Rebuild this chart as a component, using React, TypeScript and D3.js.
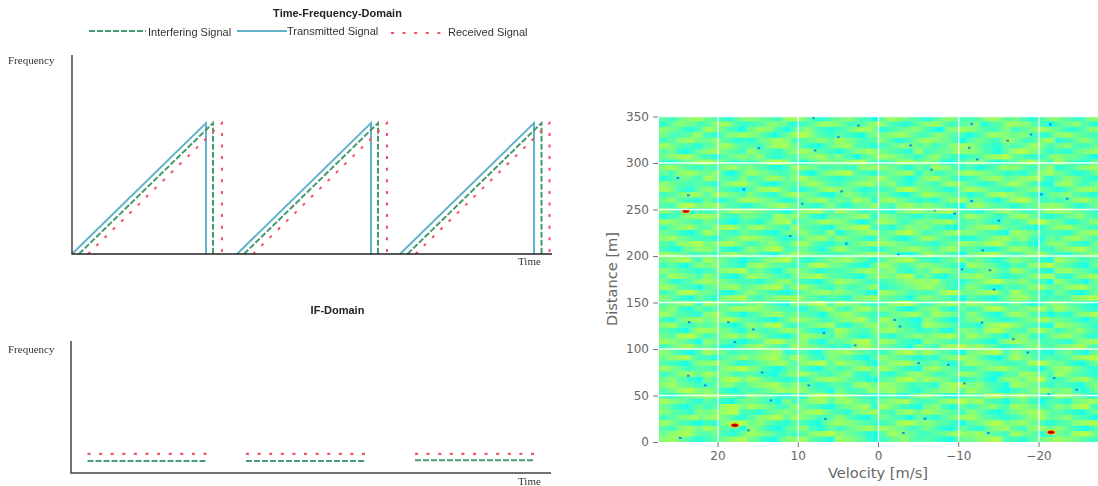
import React, { useEffect, useRef } from "react";
import * as d3 from "d3";

// left panels: time in sketch units along the axis, frequency as a share of the axis height
const chirpStarts = [0, 165, 328];
const chirpLength = 134;
const transmittedDelay = 0;
const interferingDelays = [7, 7, 7.5];
const receivedDelays = [16, 16, 15.5];
const chirpPeak = 0.658;

const ifStarts = [16.5, 175, 344];
const ifEnds = [135.5, 295, 463];
const ifReceived = [0.145, 0.145, 0.145];
const ifInterfering = [0.09, 0.09, 0.097];

// heatmap axes
const velocityTicks = [20, 10, 0, -10, -20];
const distanceTicks = [0, 50, 100, 150, 200, 250, 300, 350];

// estimated colour level (0-9) of the background field, top row first.
// the texture is too fine to read cell by cell so this is approximate
const fieldRows = [
  "4433556677 5543322456 6655443367 7765432234 5566543321 4577665443 2234566543 3345677654 5543223456 6544332566",
  "2345665543 4466775432 3344566553 2233456776 6543344567 7543322345 6677543344 5562234457 7766543321 3455664422",
  "6655432234 7765543312 5577664321 4556643322 3345677765 2234455665 4321156677 6654433456 3344567765 5432233566",
  "5543344576 3322456677 6654321345 7788654332 4433221456 5566776543 3456654433 1234577665 5566433224 6677554433",
  "3344667755 5566443223 2245567766 3344556654 7765543344 6543223456 7766554321 4455443367 6543345677 2233456654",
  "7765443322 4456776543 4433567786 5543221345 6677443322 3345566554 5533446677 7654332245 3445677543 5566433345",
  "4455221345 6677554433 7654433245 6677654433 2234566776 5544332267 3344555766 6655332144 7788665432 3322455667",
  "5566778654 3321445566 5566332234 4455667754 6543214456 7766554423 4567443322 3344667788 5443322346 6655544321",
  "3322445567 7765543234 3345678876 3322445665 5566778543 3344667755 6655221344 5566432233 4466775543 7754332245",
  "6677554332 4433667755 6544322133 7766554334 4433256677 6655432245 3377665432 4321334576 6654334567 2233456677",
  "4534667765 5566321245 7765544334 5532124566 7788543322 4455667732 5543344567 7766554432 3322446677 5543222345",
  "2234455443 7765443356 3344677654 6677554433 2233445566 7654432134 6677554322 3345667754 5566778432 4466553322",
  "6655443344 3322566778 5543221345 4456776543 3345566775 5566332245 4433567765 4432233556 7765433221 6677543345",
  "7765332245 6654433221 4466778654 3322445677 6655432233 3344778865 5544322346 7766544332 3445566443 2234566776",
  "3344566776 4477665543 6543322456 7765543221 4466553344 5543221345 7766554434 2233567786 6554332245 5566443322",
  "5566443322 5532234467 7766554322 3345667754 5544776632 6677554332 3322456677 4455332144 7788654334 3344667755",
  "4433778865 6677544332 2344566776 5543322456 3322445567 4433667755 6655433221 6677554433 2234455667 6654322345",
  "6654322134 3344556776 6655443321 4466778543 7765543344 3322556677 5566778543 3322445667 5543344576 7766554432",
  "2233456677 7766433245 5544337765 6655322145 4455667732 6655443322 4433221345 7765543234 6677554322 3345566443",
  "7766554433 5543321134 3322456778 3344556776 6654321245 7766433456 5566677543 4455332245 3344778865 5532234466",
  "3345667754 4466778654 6677554432 7754433221 5566778843 3322446655 6543322134 5566778654 4433221345 6677554433",
  "5544322134 7765433245 4433221345 5566443367 2234556677 4455778865 3344566775 6654433221 7766554334 3322456677",
  "6677554433 3322445567 7766554322 3345667754 6655443223 5543221345 7765443322 2234456677 5566432245 4466775543",
  "4433667788 5566778654 3345566443 6677543322 4433556677 7766554434 3322445567 6655778865 3344221456 6654332245",
  "3322145566 6654322134 6655778843 4455332145 7765443322 2345566776 5544667743 4433221345 7766554332 5566778654",
  "7766554334 4433667755 5543221345 7766554433 3344556677 6654322134 7765543321 5566778654 3345667754 3322445566",
  "5566778543 7765543321 3344667788 5432234456 6677554322 4466778854 3322445566 4455332234 6655443221 7765543344",
  "3344221456 5566443322 6677654433 3344778865 5543322145 7765433456 6655443321 7766554322 4433667788 5544322145",
  "6655443322 3345667788 4455332145 6655432234 3344566776 5566332245 4477665543 3345566443 7765433221 6677554432",
  "4477665543 6654322134 7766554332 5566778654 4433221456 6655778843 5532214456 6677554322 3344566778 3322456677",
  "5532234466 7766554433 3322445667 4433221345 7766554334 3344556677 6677443322 4455778865 5566443321 7654332145",
  "7766443321 4455667754 5566778843 6677554332 5543344567 2233445566 7765543234 6654322134 3344667755 4466778654",
  "3344778865 5543221345 6654433221 3345566775 6655443221 7766554334 3344778865 5566778543 7765443322 5543221345",
  "6654322145 3322667788 4433556677 7765443234 3322556677 5544332145 6655443221 4433221345 6677554334 3344667788",
  "4455667732 7765543344 5566443221 6655778843 7766554332 4466778854 3345667754 7766554433 5543221456 6654433221",
  "5566332245 3344556776 7766554433 3322445677 4433667755 6655322134 5566332245 3344778865 4455667754 7765543322",
  "7765443322 6677543321 3345667754 5544332145 6677554433 3345566776 4477665543 6654322145 7766443321 3322456678",
  "3322556677 5566778654 4433221345 7766554334 5566778543 7765433221 6654322134 5566443322 3345566775 5544332134",
  "6677443345 4455332134 6655778843 3344556677 3322445667 5566443322 7766554433 3322667788 6654433221 7766554432",
  "4433221567 7766554322 5543344567 6654322134 7765443356 6677554432 3344221456 5544778865 4433667755 3345566443",
  "5544778865 3344667755 7765433221 4477665543 6654332245 3322445566 5566778654 7765543321 5566332245 6677554322",
  "7766554321 6655443221 3344778865 5566332145 4455778854 7766433221 6655443345 4433221456 7766554334 3322456677",
  "3345667754 5543221345 6677554433 7766554432 3322667765 5544332156 4433667788 6677554322 3345566443 5566778543",
  "6654322134 7765543344 4455667732 3344221456 6677554433 3345778865 7765443221 5566778843 6654433221 4455332145",
  "5566778543 3322445567 5566778654 7765433256 5544322134 6655443322 3322556677 6654322134 7765543344 3344667788",
  "4433221456 6677554322 3345566775 4466778854 7766554321 5566778654 4455332245 7766554433 3344778865 5543221345",
  "7765543344 4433667788 6654322134 5543221345 3344667755 7765433221 6677554433 3345566776 5544332145 6677554322",
  "3344667755 7766554334 4433221345 6677554433 5566332245 3322445667 5543344567 6654322134 4477665543 7765443322",
  "5566443221 5544778865 7765443322 3322456677 6654433221 4455778865 7766554322 3344221456 6655778843 3345667754",
  "6677554433 3345566443 5566778654 6655432234 4433667755 7766554334 3322667788 5566443321 7766554432 4433221456",
  "4455778865 6654322134 3344556776 7766443321 5543344576 6677554322 4455667754 7765543221 3344566775 5566332245",
  "3322445566 7766554433 6655443221 4433778865 7765443322 3344221456 6654322134 5544778865 6677554433 7766554322",
  "7766554322 4433221345 5544332156 3345667754 6677554433 5566778543 3344667788 6677443321 4455332134 3322556677",
  "5543221345 3344778865 7766554334 6654433221 4455667732 7765433221 5566332245 3345566443 7766554334 6655778843",
  "6654433256 5566778843 3322445566 5566778654 3322556677 4433667755 7766554433 6654322134 5566778654 4433221345",
  "3344566775 6677554322 4466778854 7765543344 6654322134 5544332145 3322445667 7765443322 3345667754 5566443321",
  "7765433221 3322667788 5566443322 4433221456 7766554432 3344778865 6655443221 4455778865 6677554322 3344667788",
  "4433667755 7765443322 6654322134 5566332245 3345566775 7766554334 5543221345 3322456677 4433667755 6654322134",
  "5566778654 4455332245 7766554334 3344667788 6655443221 4477665543 3344556776 6677554433 7765543221 5544778865",
  "6677554322 3344566778 5543221456 6677443321 7766554322 3345566443 4433221345 5566778843 3322445566 7766554433",
];

// blue specks in the field [velocity m/s, distance m]
const speckVelocity = [25, 16.8, 4, 14.9, 2.5, 5, 8.1, 7.9, 9.5, 4.6, 11, 23.7, -4, -6.6, -11.6, -7, -16.1, -11.3, -12.3, -19, -9.5, -15, -13, -20.3, -23.5, -21.4, -11.6, -13.9, -10.4, -2.5, 23.6, 15.6, 6.8, 2.9, 18.7, 23.7, 21.6, 8.7, 13.4, 6.6, 17.9, 14.5, 24.7, 16.2, -2.7, -12.9, -16.8, -18.6, -21.9, -21.2, -5.8, -14.4, -2, -13.7, -3.1, -10.7, -8.7, -5, -24.7];
const speckDistance = [283.8, 271.6, 213.3, 316, 340.3, 327.8, 348.6, 313.5, 256.2, 269.5, 221.5, 265.2, 318.9, 292.8, 259.1, 249.1, 323.9, 316.4, 303.8, 330.7, 245.5, 238, 206.1, 266.3, 261.6, 341.4, 342.1, 184.7, 185.7, 201.5, 128.8, 121, 117, 103.8, 128.8, 71.2, 60.8, 60.8, 44.7, 24.7, 107.4, 74.8, 4.3, 12.5, 124.2, 128.5, 110.6, 96.3, 68.7, 51.2, 25, 163.9, 131.3, 9.7, 9.7, 63, 83, 84.8, 56.2];

// the three targets
const peakVelocity = [24, 17.9, -21.5];
const peakDistance = [248.3, 17.9, 10.4];

// jet position of each field level
const fieldLevels = [0.31, 0.39, 0.415, 0.44, 0.46, 0.485, 0.51, 0.53, 0.55, 0.58];

const TEAL = "#62b3c9";
const GREEN = "#459a72";
const RED = "#f0565f";
const GREEN_DASH = "6 2";
const RED_DASH = "3 8.6";

const jet = d3
  .scaleLinear<string>()
  .domain([0, 0.125, 0.375, 0.625, 0.875, 1])
  .range(["#00007f", "#0000ff", "#00ffff", "#ffff00", "#ff0000", "#7f0000"]);

function drawLeft(svg: any) {
  const g = svg.append("g").attr("filter", "url(#soft)");
  const serif = "'Liberation Serif', serif";
  const sans = "'Liberation Sans', sans-serif";

  const label = (x: number, y: number, s: string, font: string, anchor = "start", weight = "normal", fill = "#333") =>
    g.append("text").attr("x", x).attr("y", y).attr("text-anchor", anchor)
      .attr("font-family", font).attr("font-size", 11).attr("font-weight", weight).attr("fill", fill).text(s);

  // titles
  label(337.5, 17, "Time-Frequency-Domain", sans, "middle", "bold", "#222");
  label(337.5, 314, "IF-Domain", sans, "middle", "bold", "#222");

  // legend
  const leg = (x1: number, x2: number, y: number, color: string, dash: string | null) =>
    g.append("line").attr("x1", x1).attr("x2", x2).attr("y1", y).attr("y2", y)
      .attr("stroke", color).attr("stroke-width", 2).attr("stroke-dasharray", dash);
  leg(89, 146, 31, GREEN, GREEN_DASH);
  label(148, 36, "Interfering Signal", sans);
  leg(237, 287, 31, TEAL, null);
  label(287, 35, "Transmitted Signal", sans);
  leg(391, 443, 33, RED, RED_DASH);
  label(448, 36, "Received Signal", sans);

  // time-frequency panel
  const x = d3.scaleLinear().domain([0, 480]).range([72, 552]);
  const y = d3.scaleLinear().domain([0, 1]).range([254, 55]);
  const saw = d3.line<[number, number]>().x((d) => x(d[0])).y((d) => y(d[1]));

  const chirp = (delays: number[], color: string, dash: string | null) => {
    chirpStarts.forEach((s, i) => {
      const t0 = s + delays[i];
      g.append("path")
        .attr("d", saw([[t0, 0], [t0 + chirpLength, chirpPeak], [t0 + chirpLength, 0]]))
        .attr("fill", "none").attr("stroke", color).attr("stroke-width", 2)
        .attr("stroke-dasharray", dash);
    });
  };
  chirp(chirpStarts.map(() => transmittedDelay), TEAL, null);
  chirp(interferingDelays, GREEN, GREEN_DASH);
  chirp(receivedDelays, RED, RED_DASH);

  g.append("path").attr("d", saw([[0, 1], [0, 0], [480, 0]]))
    .attr("fill", "none").attr("stroke", "#222").attr("stroke-width", 1.3);
  label(8, 64, "Frequency", serif);
  label(518, 265, "Time", serif);

  // IF panel
  const x2 = d3.scaleLinear().domain([0, 480]).range([71, 551]);
  const y2 = d3.scaleLinear().domain([0, 1]).range([473, 341]);
  const flat = d3.line<[number, number]>().x((d) => x2(d[0])).y((d) => y2(d[1]));

  ifStarts.forEach((s, i) => {
    g.append("path").attr("d", flat([[s, ifReceived[i]], [ifEnds[i], ifReceived[i]]]))
      .attr("fill", "none").attr("stroke", RED).attr("stroke-width", 2.4).attr("stroke-dasharray", RED_DASH);
    g.append("path").attr("d", flat([[s, ifInterfering[i]], [ifEnds[i], ifInterfering[i]]]))
      .attr("fill", "none").attr("stroke", GREEN).attr("stroke-width", 2).attr("stroke-dasharray", GREEN_DASH);
  });
  g.append("path").attr("d", flat([[0, 1], [0, 0], [480, 0]]))
    .attr("fill", "none").attr("stroke", "#444").attr("stroke-width", 1.5);
  label(8, 353, "Frequency", serif);
  label(518, 484.5, "Time", serif);
}

function drawHeatmap(svg: any) {
  const font = "'DejaVu Sans', sans-serif";
  const left = 659, right = 1098, top = 116, bottom = 442;
  const vx = d3.scaleLinear().domain([27.35, -27.35]).range([left, right]);
  const dy = d3.scaleLinear().domain([0, 350]).range([bottom, top + 0.5]);

  const rows = fieldRows.map((r) => r.replace(/ /g, "").split("").map(Number));
  const cols = d3.range(rows[0].length);
  const bx = d3.scaleBand<number>().domain(cols).range([left, right]);
  const by = d3.scaleBand<number>().domain(d3.range(rows.length)).range([top, bottom]);

  const clip = svg.append("g").attr("clip-path", "url(#plotClip)");
  clip.append("rect").attr("x", left).attr("y", top).attr("width", right - left).attr("height", bottom - top)
    .attr("fill", jet(fieldLevels[5]));

  const field = clip.append("g").attr("filter", "url(#fieldBlur)");
  const cells = rows.flatMap((r, i) => r.map((v, j) => ({ i, j, v })));
  field.selectAll("rect").data(cells).join("rect")
    .attr("x", (d: any) => bx(d.j))
    .attr("y", (d: any) => by(d.i))
    .attr("width", bx.bandwidth() + 0.5)
    .attr("height", by.bandwidth() + 0.5)
    .attr("fill", (d: any) => jet(fieldLevels[d.v]));

  const specks = clip.append("g").attr("filter", "url(#speckBlur)");
  specks.selectAll("rect").data(speckVelocity).join("rect")
    .attr("x", (d: number) => vx(d) - 1.25)
    .attr("y", (_: number, i: number) => dy(speckDistance[i]) - 1)
    .attr("width", 2.5).attr("height", 2)
    .attr("fill", jet(0.24))
    .attr("fill-opacity", 0.85);

  // target peaks, drawn as nested ellipses running up the colour scale
  const rings = [
    { rx: 5, ry: 2.7, v: 0.6 },
    { rx: 4.1, ry: 2.1, v: 0.78 },
    { rx: 3.2, ry: 1.5, v: 0.9 },
    { rx: 1.8, ry: 0.9, v: 1 },
  ];
  const peaks = clip.append("g").attr("filter", "url(#soft)");
  peakVelocity.forEach((v, i) => {
    rings.forEach((r) => {
      peaks.append("ellipse").attr("cx", vx(v)).attr("cy", dy(peakDistance[i]))
        .attr("rx", r.rx).attr("ry", r.ry).attr("fill", jet(r.v));
    });
  });

  // white grid over the image
  const grid = svg.append("g").attr("stroke", "#fff").attr("stroke-width", 1.3).attr("stroke-opacity", 0.9);
  velocityTicks.forEach((t) => {
    grid.append("line").attr("x1", vx(t)).attr("x2", vx(t)).attr("y1", top).attr("y2", bottom);
  });
  distanceTicks.slice(1).forEach((t) => {
    grid.append("line").attr("x1", left).attr("x2", right).attr("y1", dy(t)).attr("y2", dy(t));
  });

  // axes
  const xAxis = svg.append("g").attr("transform", `translate(-0.5,${bottom})`)
    .call(d3.axisBottom(vx).tickValues(velocityTicks).tickSize(5).tickPadding(4));
  const yAxis = svg.append("g").attr("transform", `translate(${left - 1},0)`)
    .call(d3.axisLeft(dy).tickValues(distanceTicks).tickSize(5).tickPadding(4));
  [xAxis, yAxis].forEach((a) => {
    a.select(".domain").remove();
    a.selectAll("line").attr("stroke", "#777");
    a.selectAll("text").attr("fill", "#666").attr("font-family", font).attr("font-size", 12);
  });

  svg.append("text").attr("x", 878).attr("y", 478).attr("text-anchor", "middle")
    .attr("font-family", font).attr("font-size", 14.6).attr("fill", "#666").text("Velocity [m/s]");
  svg.append("text").attr("transform", "translate(617,279) rotate(-90)").attr("text-anchor", "middle")
    .attr("font-family", font).attr("font-size", 14.6).attr("fill", "#666").text("Distance [m]");
}

export default function App() {
  const ref = useRef<SVGSVGElement>(null);

  useEffect(() => {
    const svg = d3.select(ref.current);
    svg.selectAll("*").remove();

    const defs = svg.append("defs");
    defs.append("filter").attr("id", "soft").attr("x", "-5%").attr("y", "-5%").attr("width", "110%").attr("height", "110%")
      .append("feGaussianBlur").attr("stdDeviation", 0.35);
    defs.append("filter").attr("id", "speckBlur").attr("x", "-2%").attr("y", "-2%").attr("width", "104%").attr("height", "104%")
      .append("feGaussianBlur").attr("stdDeviation", 0.6);
    defs.append("filter").attr("id", "fieldBlur").attr("x", "-2%").attr("y", "-2%").attr("width", "104%").attr("height", "104%")
      .append("feGaussianBlur").attr("stdDeviation", "0.8 0.7");
    defs.append("clipPath").attr("id", "plotClip").append("rect")
      .attr("x", 659).attr("y", 116).attr("width", 439).attr("height", 326);

    drawLeft(svg);
    drawHeatmap(svg);
  }, []);

  return (
    <svg
      ref={ref}
      width={1098}
      height={486}
      style={{ position: "absolute", left: 0, top: 0, background: "#fff" }}
    />
  );
}
